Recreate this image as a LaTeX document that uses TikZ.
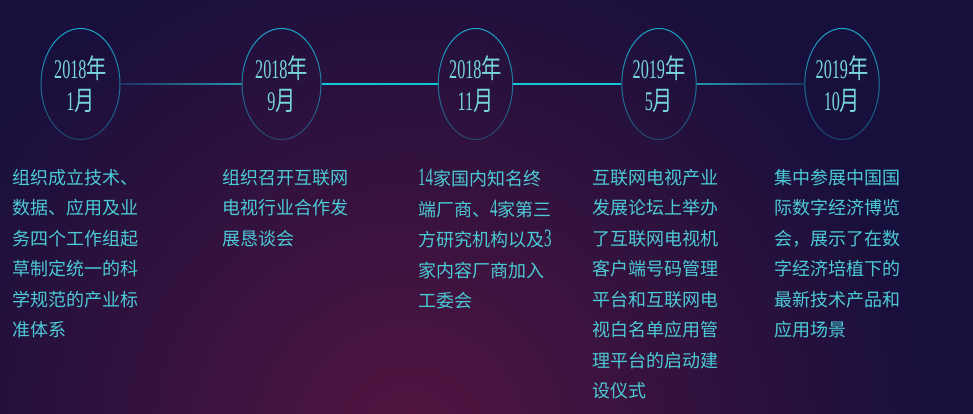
\documentclass[tikz,border=0pt]{standalone}
\usepackage{fontspec}
\usetikzlibrary{shapes.geometric,fadings}
\newfontfamily\cjk{Noto Sans CJK SC}
\newfontfamily\digit[FakeStretch=0.6]{Liberation Serif}
\newfontfamily\cjkdate[FakeStretch=0.75]{Noto Sans CJK SC}
\definecolor{bgnavy}{HTML}{170F3C}
\definecolor{bgwine}{HTML}{521540}
\definecolor{ring}{HTML}{1CA8CC}
\definecolor{datecol}{HTML}{78D6DE}
\definecolor{desccol}{HTML}{4CCAD6}
\definecolor{linebright}{HTML}{12C8D4}
\definecolor{linedim}{HTML}{1E3560}
\definecolor{lineteal}{HTML}{2596AC}
\pgfdeclareradialshading{glow}{\pgfpoint{0bp}{0bp}}{color(0bp)=(bgwine); color(17bp)=(bgnavy); color(50bp)=(bgnavy)}
\newcommand\when[2]{{\digit #1}{\cjkdate 年}\\{\digit #2}{\cjkdate 月}}
\newcommand\dg[1]{{\digit\fontsize{25}{30.5}\selectfont #1}}
\tikzfading[name=ringfade, top color=transparent!0, bottom color=transparent!65]
\tikzset{
	date/.style={ellipse,draw=ring,line width=1pt,path fading=ringfade,inner sep=0pt,minimum width=#1,minimum height=111pt,align=center,text=datecol,font=\fontsize{27}{32}\selectfont},
	desc/.style={anchor=north west,inner sep=0pt,align=left,text=desccol,font=\cjk\fontsize{18}{30.5}\selectfont},
	lnk/.style={draw=linebright,line width=1.8pt}
}
\begin{document}
\begin{tikzpicture}[x=1pt,y=-1pt]
	\useasboundingbox (0,0) rectangle (973,413);
	\begin{scope}
		\clip (0,0) rectangle (973,413);
		\fill[bgnavy] (0,0) rectangle (973,413);
		\shade[shading=glow] (410,440) circle (780);
	\end{scope}

	\node [date=79pt] (e1) at (80.5,84) {\when{2018}{1}};
	\node [date=79pt] (e2) at (281.5,84) {\when{2018}{9}};
	\node [date=73pt] (e3) at (475.5,84) {\when{2018}{11}};
	\node [date=73pt] (e4) at (659,84) {\when{2019}{5}};
	\node [date=73pt] (e5) at (842,84) {\when{2019}{10}};

	\shade[left color=linedim,right color=lineteal] ([yshift=-0.7pt]e1.east) rectangle ([yshift=0.7pt]e2.west);
	\draw[lnk] (e2) -- (e3);
	\draw[lnk] (e3) -- (e4);
	\shade[left color=lineteal,right color=linedim] ([yshift=-0.7pt]e4.east) rectangle ([yshift=0.7pt]e5.west);

	\node [desc] (d1) at (12,169) {组织成立技术、\\数据、应用及业\\务四个工作组起\\草制定统一的科\\学规范的产业标\\准体系};
	\node [desc] (d2) at (222,169) {组织召开互联网\\电视行业合作发\\展恳谈会};
	\node [desc] (d3) at (418,169) {\dg{14}家国内知名终\\端厂商、\dg{4}家第三\\方研究机构以及\dg{3}\\家内容厂商加入\\工委会};
	\node [desc] (d4) at (592,169) {互联网电视产业\\发展论坛上举办\\了互联网电视机\\客户端号码管理\\平台和互联网电\\视白名单应用管\\理平台的启动建\\设仪式};
	\node [desc] (d5) at (774,169) {集中参展中国国\\际数字经济博览\\会，展示了在数\\字经济培植下的\\最新技术产品和\\应用场景};
\end{tikzpicture}
\end{document}
